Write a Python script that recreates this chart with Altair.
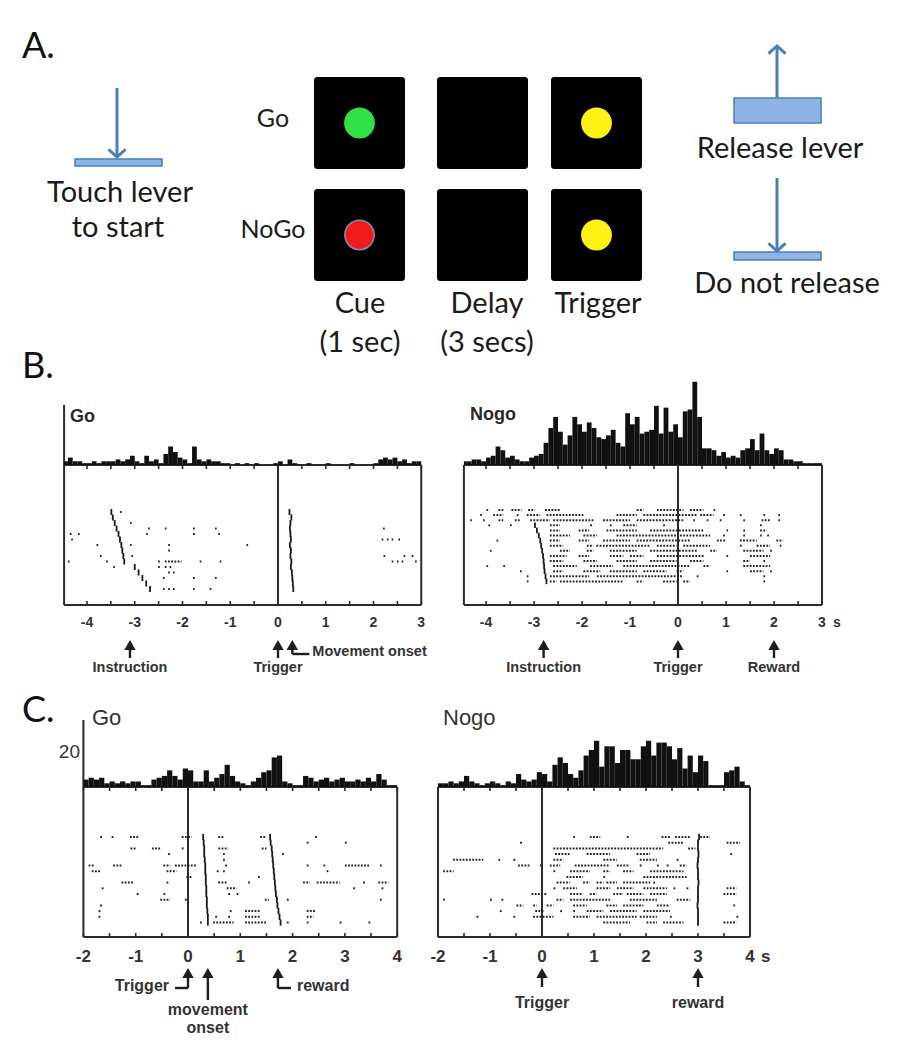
import altair as alt
import pandas as pd

W, H = 891, 1034          # drawing area (page minus 8px margins)
OX, OY = 8, 8             # page offset of the drawing area
U = 1.85                  # px per histogram count unit

# ======================= DATA =======================
PANEL_LETTERS = ["A.", "B.", "C."]
TASK_ROWS = ["Go", "NoGo"]
TASK_COLS = ["Cue", "Delay", "Trigger"]
TASK_COL_SUB = ["(1 sec)", "(3 secs)", ""]
CUE_COLOURS = [("Go", "Cue", "#2fe046"), ("Go", "Trigger", "#fff215"),
               ("NoGo", "Cue", "#f21b1b"), ("NoGo", "Trigger", "#fff215")]
LEVER_TEXTS = ["Touch lever", "to start", "Release lever", "Do not release"]

BIN_W = 0.1
B_HIST_START = -4.5
C_HIST_START = -2.0
BGO_HIST = [2, 4, 2, 2, 1, 1, 2, 1, 2, 2, 2, 3, 2, 3, 5, 2, 1, 5, 2, 3,
            1, 6, 10, 7, 4, 3, 1, 10, 3, 2, 3, 2, 2, 1, 1, 0, 1, 0, 1, 0,
            1, 0, 0, 0, 1, 2, 0, 3, 1, 0, 0, 1, 0, 0, 0, 1, 0, 0, 0, 0,
            1, 0, 0, 0, 0, 1, 3, 4, 3, 4, 2, 3, 1, 2, 2]
BNOGO_HIST = [2, 2, 3, 3, 2, 4, 5, 10, 8, 4, 5, 3, 2, 2, 4, 5, 6, 12, 20, 26,
              18, 11, 16, 26, 22, 18, 23, 20, 15, 14, 16, 19, 12, 10, 28, 22, 26, 17, 18, 19,
              32, 17, 31, 18, 22, 15, 29, 30, 45, 26, 9, 9, 8, 5, 7, 4, 5, 4, 8, 9,
              14, 8, 17, 8, 6, 9, 8, 3, 3, 2, 2, 1, 1, 1, 1]
CGO_HIST = [4, 5, 4, 5, 2, 3, 2, 3, 2, 3, 3, 1, 1, 4, 5, 6, 9, 6, 4, 10,
            9, 3, 3, 9, 3, 5, 7, 12, 6, 3, 2, 1, 3, 5, 8, 9, 16, 17, 3, 2,
            1, 1, 6, 5, 3, 4, 5, 3, 4, 5, 3, 3, 4, 3, 5, 3, 7, 4, 1, 1]
CNOGO_HIST = [2, 2, 3, 2, 3, 6, 3, 2, 1, 2, 3, 2, 1, 3, 2, 7, 4, 3, 4, 8,
              7, 3, 12, 16, 13, 7, 5, 9, 17, 20, 25, 11, 22, 22, 13, 20, 20, 15, 15, 22,
              25, 17, 24, 24, 22, 15, 21, 10, 17, 8, 17, 14, 1, 1, 1, 8, 9, 11, 3, 1]

# raster rows: spike times (s); "a:b" = dense run of spikes from a to b
BGO_ROWS = ["-3.31", "", "-3.10", "-2.72 -2.37 -1.78 -1.32 2.20",
            "-4.36 -4.19 -2.76 -1.78:-1.71 -1.25", "-4.33 2.17 2.28 2.38 2.52",
            "-3.80 -3.10 -2.30 -0.66", "-2.30", "-3.73 -3.07 2.21 2.63 2.80",
            "-4.40 -3.60 -2.51 -2.37:-2.02 -1.64 -1.22 2.38 2.49 2.59 2.87",
            "-3.45 -2.51 -2.37 -2.27", "-2.30 -2.20", "-2.41 -1.78 -1.32", "",
            "-2.41 -2.30 -2.20 -1.78 -1.43"]
BGO_INSTR = [-3.49, -3.46, -3.42, -3.38, -3.34, -3.31, -3.28, -3.26, -3.24, -3.22,
             -3.00, -2.92, -2.84, -2.76, -2.68]
BGO_MOVE = [0.24, 0.28, 0.26, 0.25, 0.26, 0.27, 0.25, 0.27, 0.26, 0.28, 0.27, 0.29, 0.30, 0.31, 0.32]

BNOGO_ROWS = [
    "-3.99 -3.74:-3.64 -3.47:-3.26 -3.12:-2.98 -2.77:-2.46 -0.86:-0.72 -0.44:0.11 0.25:0.53 0.74",
    "-4.12 -3.85:-3.64 -3.36 -3.15:-2.87 -2.74:-1.97 -1.28:-0.86 -0.72:0.39 0.46:0.74 0.94:1.0 1.29 1.78 2.09",
    "-4.33 -4.06 -3.74:-3.64 -3.40:-3.30 -3.08:-2.67 -2.60:-1.76 -1.56:-1.0 -0.86:0.11 0.32 0.60 0.87 1.36 1.74:1.92 2.09",
    "-3.95 -3.50 -2.67:-2.46 -1.83:-1.76 -1.42 -1.14:-0.86 -0.31:-0.24 1.71",
    "-2.67:-2.46 -2.07:-1.85 -1.49:-0.86 -0.58:0.53 1.01 1.36 1.71:1.85",
    "-2.67:-2.25 -1.97:-1.69 -1.28:0.0 0.04:0.67 0.94 1.36 1.71 1.86",
    "-3.78 -2.67:-2.46 -2.07:-1.85 -1.56:-1.0 -0.86:0.25 0.81:1.01 1.29:1.64 2.05:2.19",
    "-2.67:-2.39 -1.90:-1.76 -1.70:-0.58 -0.44:-0.03 0.11:0.67 1.29 1.64:1.92 2.12",
    "-3.92 -2.46:-2.25 -1.90:-1.76 -1.42:-0.86 -0.58:0.39 0.67:0.81 1.36:1.78 1.92",
    "-2.67:-2.32 -2.07:-1.85 -1.42:-1.14 -1.0:-0.72 -0.44:0.53 1.01 1.5:1.92",
    "-2.67:-2.39 -1.97:-1.69 -1.28:-0.86 -0.58:-0.03 0.25:0.53 1.36:1.5 1.78",
    "-3.99 -3.64 -2.60:-2.11 -1.83:-1.35 -1.14:0.25 0.53:0.67 1.36:1.92",
    "-3.29 -2.60:-2.39 -1.97:-1.62 -1.42:-0.86 -0.72:-0.24 -0.03:0.11 1.01 1.5:1.78 1.92",
    "-3.15 -2.67:-1.85 -1.69:0.11 0.39 1.78",
    "-3.15 -2.67:-2.53 -2.46:-1.14 -0.86:-0.72 -0.31:-0.03 0.11:0.25 1.78"]
BNOGO_INSTR = [None, None, None, -2.98, -2.94, -2.90, -2.87, -2.85, -2.83, -2.81,
               -2.80, -2.79, -2.78, -2.76, -2.74]

CGO_ROWS = ["-1.68 -1.46 -1.11:-0.95 -0.12:0.07 0.58:0.68 1.38:1.50 2.43",
            "2.27 3.0",
            "-1.10:-1.0 -0.69:-0.53 -0.12 0.58:0.77 1.41:1.5",
            "-0.38 0.67 1.80",
            "0.67",
            "-1.90:-1.78 -1.43:-1.27 -0.47:-0.34 -0.25:0.17 0.71 2.27 2.59 3.0:3.48 3.67",
            "-1.84:-1.68 -0.41:-0.22 0.55 0.67 2.65",
            "-0.03:0.07 1.34",
            "-1.27:-1.04 -0.41 0.58:0.74 1.15 2.2:2.33 2.46:2.9 3.35 3.64:3.83",
            "-1.65 0.74:0.93 3.16 3.7",
            "-0.98 -0.47 0.77 0.93",
            "-0.53:-0.34 -0.06 1.47:1.55 1.89 3.67",
            "-1.68",
            "-1.71 0.80 1.09:1.38 2.27:2.43",
            "-1.71 0.52 0.77 1.09:1.38 2.27:2.4",
            "0.23 0.48:0.87 1.09:1.5 1.89 2.27 2.9 3.45"]
CGO_MOVE = [0.29, 0.30, 0.31, 0.31, 0.32, 0.33, 0.33, 0.34, 0.34, 0.35, 0.35, 0.36, 0.36, 0.37, 0.38, 0.38]
CGO_REWARD = [1.57, 1.58, 1.60, 1.61, 1.62, 1.63, 1.64, 1.65, 1.66, 1.67, 1.68, 1.70, 1.71, 1.73, 1.75, 1.77]

CNOGO_ROWS = ["0.60 0.92:1.12 1.63 2.30:2.46 2.56:2.85 3.04:3.23",
              "-0.42 2.43:2.72 3.55:3.81",
              "0.22:2.33 2.81:2.95",
              "0.25:0.54 0.86:1.31 1.82:2.08 3.62",
              "-1.71:-1.13 -0.84 -0.55 0.22:0.41 1.18:1.44 1.88:2.21 2.59",
              "-0.46:-0.23 -0.04 0.15:0.35 0.63:1.31 1.44:1.69 1.88 2.21 2.40 2.65:2.78",
              "-1.9:-1.7 0.22 0.54:0.92 1.18:1.31 1.56:1.76 2.08:2.72",
              "0.47:0.79 1.18 1.95:2.78",
              "0.28:0.54 0.79:0.92 1.05:1.18 1.24:1.44 1.56:2.08 2.14",
              "0.22 0.41:0.67 1.05:1.31 1.44:1.76 1.95:2.40 2.53 2.78 3.55:3.74",
              "-0.20:0.09 0.54:0.79 0.92:1.05 1.37:1.56 1.63:1.95 2.08:2.40 3.49:3.74",
              "-1.9 -1.0 -0.78 0.28:0.41 0.54:1.31 1.69:2.21 2.59:2.85",
              "-0.49:-0.36 -0.17:-0.10 0.09:0.22 0.60:0.86 1.24:1.44 1.56:1.95 2.21:2.46 3.68",
              "-0.81 -0.13:0.03 0.35 0.60 0.86:1.18 1.31:1.82 1.95:2.46",
              "-1.26 -0.55 -0.17:0.22 0.60:0.92 1.05:1.82 1.88:2.21 2.46 3.74",
              "1.18:1.69 2.01:2.21 2.33:2.72 3.49:3.74"]
CNOGO_REWARD = [3.02, 3.0, 3.0, 3.01, 3.0, 2.99, 3.0, 3.0, 3.01, 3.0, 3.0, 3.0, 2.99, 3.0, 3.0, 3.0]

B_TICKS = [-4, -3.5, -3, -2.5, -2, -1.5, -1, -0.5, 0, 0.5, 1, 1.5, 2, 2.5, 3]
B_LABELS = [-4, -3, -2, -1, 0, 1, 2, 3]
C_TICKS = [-2, -1.5, -1, -0.5, 0, 0.5, 1, 1.5, 2, 2.5, 3, 3.5, 4]
C_LABELS = [-2, -1, 0, 1, 2, 3, 4]

BGO_EVENTS = [("Instruction", -3.1), ("Trigger", 0.0), ("Movement onset", 0.3)]
BNOGO_EVENTS = [("Instruction", -2.8), ("Trigger", 0.0), ("Reward", 2.0)]
CGO_EVENTS = [("Trigger", 0.0), ("movement|onset", 0.38), ("reward", 1.72)]
CNOGO_EVENTS = [("Trigger", 0.0), ("reward", 3.0)]

# ======================= LAYOUT / STYLE =======================
INK = "#2b2b2b"
BLUE = "#4a7ebb"
BAR_FILL = "#8db4e4"
A_FONT = "Lato"
B_FONT = "Liberation Sans"

PANELS = {
    "Bgo": dict(x0=278, k=47.75, base=465, axis=605, tl=-4.48, tr=3.0, ytop=405, rtop=512, rsp=5.5),
    "Bnogo": dict(x0=678, k=48.0, base=465, axis=605, tl=-4.46, tr=3.0, ytop=None, rtop=510, rsp=5.1),
    "Cgo": dict(x0=188, k=52.3, base=787, axis=937, tl=-2.0, tr=4.0, ytop=720, rtop=837, rsp=5.7),
    "Cnogo": dict(x0=542, k=52.0, base=787, axis=937, tl=-2.0, tr=4.0, ytop=None, rtop=837, rsp=5.7),
}
B_ANN = dict(head=40, shaft=53, text=67, conn=49, conn_text=51, conn_len=17, text_gap=20,
             long_shaft=60, long_text=[75, 92], fs=14.5, lab_dy=22, lab_fs=14)
C_ANN = dict(head=36, shaft=50, text=71, conn=51, conn_text=54, conn_len=13, text_gap=19,
             long_shaft=63, long_text=[78, 96], fs=16, lab_dy=25, lab_fs=17)


def pxs():
    return alt.Scale(domain=[OX, OX + W], nice=False, zero=False)


def pys():
    return alt.Scale(domain=[OY, OY + H], reverse=True, nice=False, zero=False)


def ts(P):
    return alt.Scale(domain=[(OX - P["x0"]) / P["k"], (OX + W - P["x0"]) / P["k"]], nice=False, zero=False)


def cs(P):
    return alt.Scale(domain=[(P["base"] - (OY + H)) / U, (P["base"] - OY) / U], nice=False, zero=False)


def rs(P):
    return alt.Scale(domain=[1 + (OY - P["rtop"]) / P["rsp"], 1 + (OY + H - P["rtop"]) / P["rsp"]],
                     reverse=True, nice=False, zero=False)


def rule_layer(df, xs, ys, **kw):
    return alt.Chart(df).mark_rule(**kw).encode(
        x=alt.X("x:Q", scale=xs, axis=None), x2=alt.X2("x2"),
        y=alt.Y("y:Q", scale=ys, axis=None), y2=alt.Y2("y2"))


def text_layer(df, xs, ys, **kw):
    return alt.Chart(df).mark_text(**kw).encode(
        x=alt.X("x:Q", scale=xs, axis=None), y=alt.Y("y:Q", scale=ys, axis=None),
        text=alt.Text("label:N"))


def point_layer(df, xs, ys, **kw):
    return alt.Chart(df).mark_point(**kw).encode(
        x=alt.X("x:Q", scale=xs, axis=None), y=alt.Y("y:Q", scale=ys, axis=None))


def parse_rows(rows):
    recs = []
    for i, s in enumerate(rows, start=1):
        for tok in s.split():
            if ":" in tok:
                a, b = (float(v) for v in tok.split(":"))
            else:
                a = float(tok)
                b = a + 0.035
            recs.append(dict(y=i, y2=i, x=a, x2=b))
    return pd.DataFrame(recs)


def event_df(vals):
    return pd.DataFrame([dict(x=v, x2=v, y=i - 0.55, y2=i + 0.55)
                         for i, v in enumerate(vals, start=1) if v is not None])


def panel(P, A, hist, hstart, rows, events, ticks, labels, ann, styles, unit_s=False):
    L = []
    xs, ys = ts(P), pys()
    fr = [dict(x=P["tl"], x2=P["tr"], y=P["base"], y2=P["base"]),
          dict(x=P["tl"], x2=P["tr"], y=P["axis"], y2=P["axis"]),
          dict(x=P["tl"], x2=P["tl"], y=P["ytop"] or P["base"], y2=P["axis"]),
          dict(x=0, x2=0, y=P["base"], y2=P["axis"]),
          dict(x=P["tr"], x2=P["tr"], y=P["base"], y2=P["axis"])]
    L.append(rule_layer(pd.DataFrame(fr), xs, ys, color=INK, strokeWidth=2))
    tk = [dict(x=v, x2=v, y=P["axis"], y2=P["axis"] - 4) for v in ticks] + \
         [dict(x=v, x2=v, y=P["base"], y2=P["base"] + 4) for v in ticks]
    L.append(rule_layer(pd.DataFrame(tk), xs, ys, color=INK, strokeWidth=1.6))
    lab = pd.DataFrame(dict(x=labels, y=[P["axis"] + A["lab_dy"]] * len(labels),
                            label=[str(v) for v in labels]))
    L.append(text_layer(lab, xs, ys, font=B_FONT, fontSize=A["lab_fs"], fontWeight="bold",
                        color="#333", baseline="alphabetic", align="center"))
    if unit_s:
        L.append(text_layer(pd.DataFrame(dict(x=[P["tr"] + 11 / P["k"]], y=[P["axis"] + A["lab_dy"]], label=["s"])),
                            xs, ys, font=B_FONT, fontSize=A["lab_fs"], fontWeight="bold",
                            color="#333", baseline="alphabetic", align="left"))
    # histogram
    hd = pd.DataFrame(dict(x=[max(hstart + i * BIN_W, P["tl"]) for i in range(len(hist))],
                           x2=[min(hstart + (i + 1) * BIN_W, P["tr"]) for i in range(len(hist))],
                           c=hist, c0=[0] * len(hist)))
    L.append(alt.Chart(hd).mark_bar(color="#111", strokeWidth=0).encode(
        x=alt.X("x:Q", scale=xs, axis=None), x2=alt.X2("x2"),
        y=alt.Y("c:Q", scale=cs(P), axis=None), y2=alt.Y2("c0")))
    # raster
    L.append(rule_layer(parse_rows(rows), xs, rs(P), color="#232323", strokeWidth=2, strokeDash=[1.8, 1.4]))
    for ev in events:
        L.append(rule_layer(event_df(ev), xs, rs(P), color="#1a1a1a", strokeWidth=1.8))
    # annotations
    shafts, heads = [], []
    texts = {"center": [], "left": [], "right": []}
    ax = P["axis"]
    for (name, t), style in zip(ann, styles):
        hy = ax + A["head"]
        heads.append(dict(x=t, y=hy))
        if style == "below":
            shafts.append(dict(x=t, x2=t, y=hy, y2=ax + A["shaft"]))
            texts["center"].append(dict(x=t, y=ax + A["text"], label=name))
        elif style == "long":
            shafts.append(dict(x=t, x2=t, y=hy, y2=ax + A["long_shaft"]))
            for part, dy in zip(name.split("|"), A["long_text"]):
                texts["center"].append(dict(x=t, y=ax + dy, label=part))
        else:
            sgn = 1 if style == "Lright" else -1
            yb = ax + A["conn"]
            shafts.append(dict(x=t, x2=t, y=hy, y2=yb))
            shafts.append(dict(x=t, x2=t + sgn * A["conn_len"] / P["k"], y=yb, y2=yb))
            texts["left" if sgn > 0 else "right"].append(
                dict(x=t + sgn * A["text_gap"] / P["k"], y=ax + A["conn_text"], label=name))
    L.append(rule_layer(pd.DataFrame(shafts), xs, ys, color="#1e1e1e", strokeWidth=2.4))
    L.append(point_layer(pd.DataFrame(heads), xs, ys, shape="triangle-up", filled=True,
                         size=130, color="#1e1e1e", opacity=1))
    for al, items in texts.items():
        if items:
            L.append(text_layer(pd.DataFrame(items), xs, ys, font=B_FONT, fontSize=A["fs"],
                                fontWeight="bold", color="#333", baseline="alphabetic", align=al))
    return L


layers = []
xs, ys = pxs(), pys()

# ---------------- Panel A (schematic) ----------------
COL_X = {"Cue": (314, 405), "Delay": (437, 528), "Trigger": (551, 642)}
ROW_Y = {"Go": (77, 169), "NoGo": (189, 281)}
sq = pd.DataFrame([dict(x=COL_X[c][0], x2=COL_X[c][1], y=ROW_Y[r][0], y2=ROW_Y[r][1])
                   for r in TASK_ROWS for c in TASK_COLS])
layers.append(alt.Chart(sq).mark_rect(color="#000", cornerRadius=3).encode(
    x=alt.X("x:Q", scale=xs, axis=None), x2=alt.X2("x2"),
    y=alt.Y("y:Q", scale=ys, axis=None), y2=alt.Y2("y2")))
circ = pd.DataFrame([dict(x=sum(COL_X[c]) / 2, y=sum(ROW_Y[r]) / 2, fill=col,
                          stroke="#8a8ab0" if col == "#f21b1b" else col)
                     for r, c, col in CUE_COLOURS])
layers.append(alt.Chart(circ).mark_point(shape="circle", filled=True, size=860, opacity=1, strokeWidth=1.5).encode(
    x=alt.X("x:Q", scale=xs, axis=None), y=alt.Y("y:Q", scale=ys, axis=None),
    fill=alt.Fill("fill:N", scale=None), stroke=alt.Stroke("stroke:N", scale=None)))
row_lab = pd.DataFrame(dict(x=[273, 273], y=[127, 238], label=TASK_ROWS))
layers.append(text_layer(row_lab, xs, ys, font=A_FONT, fontSize=25, color="#1a1a1a",
                         baseline="alphabetic", align="center"))
col_lab = pd.DataFrame(dict(x=[360, 487, 598, 360, 487], y=[313, 313, 313, 352, 352],
                            label=TASK_COLS + TASK_COL_SUB[:2]))
layers.append(text_layer(col_lab, xs, ys, font=A_FONT, fontSize=29, color="#1a1a1a",
                         baseline="alphabetic", align="center"))
lev_lab = pd.DataFrame(dict(x=[120, 118, 780, 787], y=[202, 237, 158, 293], label=LEVER_TEXTS))
layers.append(text_layer(lev_lab, xs, ys, font=A_FONT, fontSize=29, color="#1a1a1a",
                         baseline="alphabetic", align="center"))
letters = pd.DataFrame(dict(x=[22, 22, 22], y=[58, 378, 722], label=PANEL_LETTERS))
layers.append(text_layer(letters, xs, ys, font=A_FONT, fontSize=36, color="#111",
                         baseline="alphabetic", align="left"))
bars = pd.DataFrame([dict(x=75, x2=162, y=159, y2=166), dict(x=734, x2=821, y=98, y2=123),
                     dict(x=734, x2=821, y=252, y2=260)])
layers.append(alt.Chart(bars).mark_rect(fill=BAR_FILL, stroke=BLUE, strokeWidth=1.5).encode(
    x=alt.X("x:Q", scale=xs, axis=None), x2=alt.X2("x2"),
    y=alt.Y("y:Q", scale=ys, axis=None), y2=alt.Y2("y2")))
shafts = pd.DataFrame([dict(x=117, x2=117, y=88, y2=157), dict(x=777, x2=777, y=46, y2=98),
                       dict(x=777, x2=777, y=178, y2=251)])
layers.append(rule_layer(shafts, xs, ys, color=BLUE, strokeWidth=3))
layers.append(point_layer(pd.DataFrame(dict(x=[117, 777], y=[157, 251])), xs, ys,
                          shape="M-1,-0.9L0,0L1,-0.9", filled=False, size=290, strokeWidth=3,
                          color=BLUE, opacity=1))
layers.append(point_layer(pd.DataFrame(dict(x=[777], y=[46])), xs, ys,
                          shape="M-1,0.9L0,0L1,0.9", filled=False, size=290, strokeWidth=3,
                          color=BLUE, opacity=1))

# ---------------- Panels B and C ----------------
layers += panel(PANELS["Bgo"], B_ANN, BGO_HIST, B_HIST_START, BGO_ROWS, [BGO_INSTR, BGO_MOVE],
                B_TICKS, B_LABELS, BGO_EVENTS, ["below", "below", "Lright"])
layers += panel(PANELS["Bnogo"], B_ANN, BNOGO_HIST, B_HIST_START, BNOGO_ROWS, [BNOGO_INSTR],
                B_TICKS, B_LABELS, BNOGO_EVENTS, ["below", "below", "below"], unit_s=True)
layers += panel(PANELS["Cgo"], C_ANN, CGO_HIST, C_HIST_START, CGO_ROWS, [CGO_MOVE, CGO_REWARD],
                C_TICKS, C_LABELS, CGO_EVENTS, ["Lleft", "long", "Lright"])
layers += panel(PANELS["Cnogo"], C_ANN, CNOGO_HIST, C_HIST_START, CNOGO_ROWS, [CNOGO_REWARD],
                C_TICKS, C_LABELS, CNOGO_EVENTS, ["below", "below"], unit_s=True)

cond_b = pd.DataFrame(dict(x=[70, 470], y=[422, 420], label=["Go", "Nogo"]))
layers.append(text_layer(cond_b, xs, ys, font=B_FONT, fontSize=18, fontWeight="bold", color="#2a2a2a",
                         baseline="alphabetic", align="left"))
cond_c = pd.DataFrame(dict(x=[92, 443], y=[725, 725], label=["Go", "Nogo"]))
layers.append(text_layer(cond_c, xs, ys, font=B_FONT, fontSize=22, color="#333",
                         baseline="alphabetic", align="left"))
scale_lab = pd.DataFrame(dict(x=[80], y=[758], label=["20"]))
layers.append(text_layer(scale_lab, xs, ys, font=B_FONT, fontSize=19, color="#333",
                         baseline="alphabetic", align="right"))

chart = alt.layer(*layers).resolve_scale(x="independent", y="independent").properties(
    width=W, height=H, autosize=alt.AutoSizeParams(type="none"), padding=0
).configure_view(stroke=None)

chart.save("out.html", embed_options={"renderer": "svg", "actions": False})
